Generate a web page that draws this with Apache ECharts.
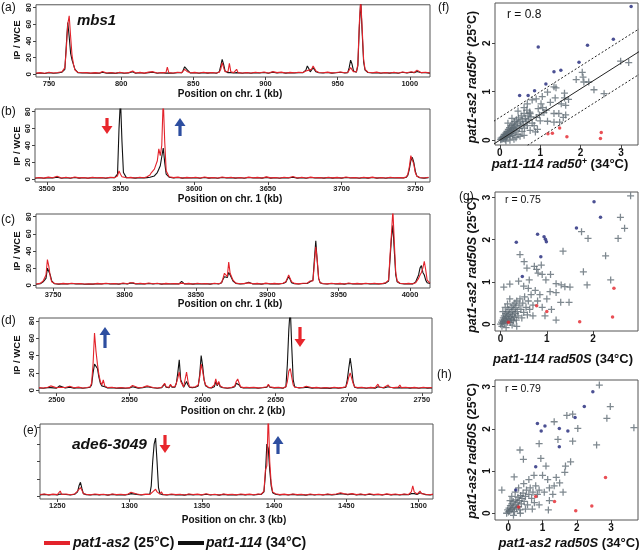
<!DOCTYPE html>
<html><head><meta charset="utf-8">
<script src="https://cdn.jsdelivr.net/npm/echarts@6/dist/echarts.min.js"></script>
<style>html,body{margin:0;padding:0;background:#fff}#c{width:640px;height:550px}</style>
</head><body><div id="c"></div>
<script>
// ---------- DATA ----------
// rows: [position kb, pat1-as2 (red), pat1-114 (black)]
const aRows = [[741,1.5,1.0],[744,2.0,1.5],[747,1.2,1.0],[750,2.5,1.8],[753,1.5,1.2],[756,2.2,1.5],[759,3.0,2.5],[761,8,6],[762,30,35],[763,60,62],[764,70,45],[765,45,25],[766,22,17],[767,12,15],[768,5,6],[770,2.5,2.0],[773,1.8,1.5],[776,2.2,1.6],[779,1.4,1.2],[782,2.0,1.5],[785,1.6,1.3],[787,3.5,2.5],[790,1.5,1.2],[793,2.2,1.7],[796,1.3,1.1],[799,2.5,2.0],[802,1.5,1.3],[805,2.0,1.6],[808,4.0,3.0],[810,1.6,1.3],[813,2.3,1.8],[816,1.4,1.2],[819,2.6,2.0],[822,3.2,2.4],[825,1.5,1.2],[828,2.2,1.8],[831,1.8,1.4],[832,8.5,2.0],[833,2.0,1.5],[836,1.6,1.3],[839,2.4,1.8],[842,2.0,1.8],[843,4,5],[844,6,9],[845,5,11],[846,3,5],[848,1.8,1.5],[851,2.3,1.9],[854,1.5,1.3],[857,2.4,2.0],[860,1.7,1.4],[863,2.1,1.8],[866,1.6,1.3],[868,2.5,3.0],[869,6,10],[870,14,18],[871,8,12],[872,3,4],[874,3,2],[875,13,3],[876,3,2],[878,2,1.6],[880,6,2],[881,2,1.5],[884,1.5,1.3],[887,2.2,1.8],[890,1.6,1.3],[893,2.4,2.0],[896,1.8,1.5],[899,2.8,2.2],[902,1.5,1.3],[905,3.2,2.6],[908,2.0,1.6],[911,2.6,2.1],[914,1.6,1.4],[917,2.3,1.9],[920,1.9,1.5],[923,2.5,2.0],[926,2.2,2.0],[928,4,5],[929,6,10],[930,5,7],[931,3,3],[932,6,5],[933,10,8],[934,8,6],[935,4,3],[937,2.2,1.8],[940,1.8,1.5],[943,2.6,2.1],[946,1.7,1.4],[949,2.2,1.8],[952,2.8,2.4],[955,1.9,1.6],[957,2.2,2.0],[958,4,8],[959,8,17],[960,6,12],[961,3,4],[963,3,2.5],[964,12,10],[965,60,55],[966,90,88],[967,55,50],[968,18,15],[969,6,5],[971,2.5,2.2],[974,1.8,1.5],[977,2.6,2.0],[980,1.5,1.3],[983,2.2,1.8],[986,1.6,1.4],[989,2.4,2.0],[992,1.5,1.3],[995,2.8,2.4],[998,1.8,1.5],[1001,3.0,2.5],[1003,2.2,2.0],[1004,4.5,3],[1005,5,3.5],[1006,4,3],[1008,2.0,1.8],[1011,2.5,2.0],[1014,1.6,1.4]];
const bRows = [[3492,1.5,1.2],[3495,2.2,1.8],[3498,1.4,1.2],[3501,2.6,2.0],[3504,1.8,1.5],[3507,3.5,2.5],[3510,1.6,1.3],[3513,2.4,1.9],[3516,1.5,1.3],[3519,2.8,2.2],[3522,1.7,1.4],[3525,2.2,1.8],[3528,1.4,1.2],[3531,2.5,2.0],[3534,1.8,1.5],[3537,2.2,1.9],[3540,1.5,1.3],[3543,2.4,2.0],[3546,2.0,2.0],[3548,4,6],[3549,10,60],[3550,6,95],[3551,3,45],[3552,2,8],[3554,1.8,2],[3557,2.3,1.8],[3560,1.6,1.4],[3563,2.4,2.0],[3566,1.8,1.5],[3568,3,2],[3570,5,2.5],[3571,8,3],[3573,12,4],[3575,22,8],[3576,36,12],[3577,28,16],[3578,40,15],[3579,95,37],[3580,45,20],[3581,10,6],[3583,3,2.5],[3586,2.0,1.7],[3589,2.6,2.1],[3592,1.6,1.4],[3595,2.3,1.9],[3598,1.8,1.5],[3601,2.5,2.0],[3604,1.5,1.3],[3607,2.8,2.2],[3610,1.7,1.4],[3613,2.2,1.8],[3616,1.5,1.3],[3619,2.7,2.1],[3622,1.8,1.5],[3625,2.4,2.0],[3628,1.6,1.4],[3631,2.2,1.8],[3634,1.5,1.3],[3637,2.6,2.1],[3640,1.8,1.5],[3643,2.3,1.9],[3646,1.6,1.4],[3649,2.9,2.3],[3652,1.7,1.4],[3655,2.2,1.8],[3658,1.5,1.3],[3661,2.5,2.0],[3664,1.8,1.5],[3667,3.2,2.4],[3670,1.6,1.4],[3673,2.4,1.9],[3676,1.5,1.3],[3679,2.6,2.1],[3682,1.8,1.5],[3685,2.2,1.8],[3688,1.6,1.4],[3691,2.5,2.0],[3694,1.7,1.4],[3697,2.3,1.9],[3700,1.6,1.4],[3703,2.8,2.2],[3706,1.8,1.5],[3709,2.2,1.8],[3712,1.5,1.3],[3715,2.4,2.0],[3718,1.7,1.4],[3721,2.6,2.1],[3724,1.6,1.4],[3727,2.2,1.8],[3730,1.5,1.3],[3733,2.5,2.0],[3736,1.8,1.5],[3739,2.2,1.8],[3742,1.7,1.5],[3744,3,2.5],[3745,6,5],[3746,15,12],[3747,28,22],[3748,30,26],[3749,18,20],[3750,8,10],[3751,4,4],[3753,2.2,1.8],[3756,1.6,1.4],[3759,2.4,2.0]];
const cRows = [[3738,1.5,1.2],[3741,2.2,1.8],[3743,5,4],[3744,6,5],[3745,12,8],[3746,30,20],[3747,22,18],[3748,10,12],[3749,4,5],[3751,2.0,1.7],[3754,1.5,1.3],[3757,2.2,1.8],[3760,1.6,1.4],[3763,2.4,2.0],[3766,1.8,1.5],[3769,2.0,1.7],[3772,1.4,1.2],[3775,1.8,1.5],[3778,1.5,1.3],[3781,2.2,1.8],[3784,1.6,1.4],[3787,2.4,2.0],[3790,1.7,1.4],[3793,2.1,1.8],[3796,1.5,1.3],[3799,2.6,2.1],[3802,1.8,1.5],[3804,3,2.5],[3805,5,4],[3806,3,2.5],[3808,1.8,1.5],[3811,2.3,1.9],[3814,1.6,1.4],[3817,2.6,2.1],[3820,1.8,1.5],[3823,2.4,2.0],[3826,1.5,1.3],[3829,2.2,1.8],[3832,1.7,1.4],[3835,2.0,1.7],[3838,1.6,1.4],[3840,2.5,4.5],[3842,1.8,1.6],[3845,2.2,1.8],[3848,1.5,1.3],[3851,2.3,1.9],[3854,1.7,1.4],[3857,2.1,1.8],[3860,1.5,1.3],[3863,2.4,2.0],[3866,1.8,1.5],[3868,3,3],[3869,8,7],[3870,14,10],[3871,16,12],[3872,10,9],[3873,27,15],[3874,14,12],[3875,12,10],[3876,6,5],[3878,2.5,2.2],[3881,1.8,1.5],[3884,2.2,1.8],[3887,2.8,3.5],[3890,1.7,1.4],[3893,2.2,1.8],[3896,1.5,1.3],[3899,2.5,2.0],[3902,1.7,1.4],[3905,2.2,1.8],[3908,1.6,1.4],[3911,2.4,2.0],[3913,4,3.5],[3914,8,7],[3915,12,10],[3916,8,7],[3917,4,3],[3919,2.2,1.8],[3922,1.6,1.4],[3925,2.4,2.0],[3928,2.5,2.0],[3929,4,3],[3930,5,4],[3931,3,3],[3932,5,6],[3933,25,30],[3934,45,52],[3935,30,28],[3936,8,8],[3937,3,3],[3939,2.0,1.7],[3942,1.6,1.4],[3945,2.4,2.0],[3948,1.7,1.4],[3951,2.2,1.8],[3954,1.5,1.3],[3957,2.6,2.1],[3960,1.8,1.5],[3963,2.2,1.8],[3966,1.6,1.4],[3969,2.4,2.0],[3972,1.7,1.4],[3975,2.3,1.9],[3978,1.6,1.4],[3981,2.2,1.8],[3983,3,2.5],[3985,6,5],[3986,35,30],[3987,60,55],[3988,88,70],[3989,50,40],[3990,15,12],[3991,5,4],[3993,2.4,2.0],[3996,1.7,1.4],[3999,2.2,1.8],[4002,1.8,1.6],[4004,3,4],[4006,8,12],[4007,12,20],[4008,15,23],[4009,20,15],[4010,28,12],[4011,18,6],[4012,6,3],[4014,2.5,2.0]];
const dRows = [[2488,3.0,2.5],[2491,2.5,2.2],[2494,3.5,3.0],[2496,5,3],[2497,3,2.5],[2500,2.8,2.4],[2502,3.5,5],[2503,2.8,3],[2506,3.2,2.6],[2509,4.5,3.5],[2512,2.8,2.4],[2515,3.6,3.0],[2518,2.6,2.2],[2521,3.2,2.8],[2523,4,3.5],[2524,8,6],[2525,30,20],[2526,66,30],[2527,45,31],[2528,30,25],[2529,18,15],[2530,10,8],[2531,6,5],[2532,12,6],[2533,5,4],[2535,3,2.6],[2538,3.5,3.0],[2541,2.6,2.2],[2544,3.2,2.7],[2547,2.5,2.2],[2550,3.0,2.6],[2552,5.5,4],[2553,3.5,3],[2556,2.8,2.4],[2559,3.4,2.9],[2562,5,4],[2563,3,2.6],[2566,3.2,2.8],[2569,2.6,2.2],[2572,3.4,2.9],[2574,8,7],[2575,4,3.5],[2577,3.5,3],[2578,7,6],[2579,4,3.5],[2581,4,3.5],[2582,8,8],[2583,14,20],[2584,21,35],[2585,10,12],[2586,7,8],[2587,4,3.5],[2588,6,4],[2589,21,10],[2590,10,6],[2591,4,3.5],[2593,3.5,3],[2595,4,3.5],[2597,6,5],[2598,15,18],[2599,30,40],[2600,22,28],[2601,12,12],[2602,6,5],[2604,3.5,3],[2606,3,2.6],[2608,6,4],[2609,13,10],[2610,6,5],[2611,10,9],[2612,5,4],[2614,3.2,2.8],[2617,2.6,2.2],[2620,3.4,2.9],[2622,5,4],[2623,10,8],[2624,13,10],[2625,8,6],[2626,4,3.5],[2628,3,2.6],[2630,3.4,3],[2631,5,4],[2632,3,2.6],[2635,3.4,2.9],[2638,2.7,2.3],[2641,3.2,2.8],[2644,4,3.5],[2645,7,6],[2646,4,3.5],[2649,3.0,2.6],[2652,3.4,2.9],[2655,2.6,2.2],[2657,4,4],[2658,10,30],[2659,22,70],[2660,25,95],[2661,15,50],[2662,6,12],[2663,3.5,4],[2666,3.0,2.6],[2669,3.4,2.8],[2671,4.5,3.5],[2672,3,2.5],[2675,2.8,2.4],[2678,3.3,2.8],[2681,2.6,2.2],[2684,3.2,2.7],[2687,2.5,2.1],[2690,3.4,2.9],[2693,2.7,2.3],[2696,3.3,2.8],[2698,4,3.5],[2699,8,12],[2700,15,25],[2701,20,37],[2702,18,25],[2703,8,10],[2704,4,3.5],[2706,3.0,2.6],[2709,3.5,3.0],[2712,2.6,2.2],[2715,3.3,2.8],[2718,2.8,2.4],[2720,7,4],[2721,3.5,3],[2724,3.2,2.7],[2727,6,4],[2728,3.5,3],[2731,3.0,2.6],[2734,3.6,3],[2735,6,4],[2736,3,2.6],[2739,3.4,2.9],[2742,2.8,2.4],[2745,3.3,2.8],[2748,2.6,2.2],[2751,3.4,2.9],[2754,2.8,2.4],[2757,3.2,2.7]];
const eRows = [[1238,2.0,1.6],[1241,2.6,2.1],[1244,1.6,1.4],[1247,2.4,2.0],[1250,1.8,1.5],[1252,6,2.5],[1253,2,1.6],[1256,2.5,2.0],[1259,1.7,1.4],[1262,2.6,2.2],[1264,6,5],[1265,8,12],[1266,10,16],[1267,7,9],[1268,3,3],[1270,2.2,1.8],[1273,1.6,1.4],[1276,2.5,2.0],[1279,1.8,1.5],[1282,2.3,1.9],[1285,1.5,1.3],[1288,2.6,2.1],[1291,1.8,1.5],[1294,2.2,1.8],[1297,1.6,1.4],[1299,2.5,2.0],[1301,4.5,3],[1302,2.2,1.8],[1305,2.6,2.1],[1308,1.7,1.4],[1311,2.4,2.0],[1314,2.0,2.5],[1315,3,12],[1316,5,40],[1317,7,60],[1318,8,67],[1319,5,40],[1320,3,10],[1321,2.5,3],[1322,5,2.5],[1323,2.2,1.8],[1326,1.6,1.4],[1329,2.5,2.0],[1332,1.8,1.5],[1335,2.2,1.8],[1338,1.5,1.3],[1341,2.6,2.1],[1344,1.9,1.6],[1347,2.4,2.0],[1350,1.6,1.4],[1353,2.8,2.2],[1356,1.7,1.4],[1359,2.3,1.9],[1362,1.5,1.3],[1365,2.6,2.1],[1368,1.8,1.5],[1371,2.2,1.8],[1374,1.6,1.4],[1377,2.5,2.0],[1380,1.8,1.5],[1383,2.4,2.0],[1386,1.7,1.4],[1389,2.6,2.1],[1391,2.2,2.0],[1393,6,5],[1394,30,25],[1395,35,60],[1396,95,55],[1397,40,30],[1398,15,12],[1399,5,4],[1401,2.8,2.2],[1404,1.8,1.5],[1407,2.4,2.0],[1410,1.6,1.4],[1413,2.6,2.1],[1416,1.8,1.5],[1419,2.2,1.8],[1422,1.5,1.3],[1425,2.5,2.0],[1428,1.7,1.4],[1431,2.3,1.9],[1434,1.6,1.4],[1437,2.6,2.1],[1440,1.9,1.6],[1443,2.5,2.0],[1446,4,3],[1447,5,3.5],[1448,3,2.5],[1451,2.2,1.8],[1454,3,2.5],[1457,1.8,1.5],[1460,2.6,2.1],[1463,1.7,1.4],[1466,2.8,2.2],[1469,1.9,1.6],[1472,2.4,2.0],[1475,1.6,1.4],[1478,2.7,2.2],[1481,1.8,1.5],[1484,2.5,2.0],[1487,1.7,1.4],[1490,2.6,2.1],[1493,2.0,1.7],[1495,5,3],[1496,12,5],[1497,5,3],[1499,2.5,2.0],[1501,6,4],[1502,3,2.5],[1505,2.2,1.8],[1508,1.7,1.4],[1510,2.4,2.0]];

const aTicks = [750,800,850,900,950,1000];
const bTicks = [3500,3550,3600,3650,3700,3750];
const cTicks = [3750,3800,3850,3900,3950,4000];
const dTicks = [2500,2550,2600,2650,2700,2750];
const eTicks = [1250,1300,1350,1400,1450,1500];
const trackYTicks = [0,20,40,60,80];

// scatter panels
const fGrey = [[0.02,0.01],[0.03,0.04],[0.05,0.02],[0.06,0.06],[0.08,0.03],[0.09,0.08],[0.1,0.05],[0.11,0.12],[0.12,0.07],[0.13,0.02],[0.14,0.1],[0.15,0.15],[0.16,0.06],[0.17,0.12],[0.18,0.18],[0.19,0.09],[0.2,0.14],[0.21,0.22],[0.22,0.11],[0.23,0.17],[0.24,0.26],[0.25,0.08],[0.26,0.2],[0.27,0.14],[0.28,0.3],[0.29,0.18],[0.3,0.24],[0.31,0.1],[0.32,0.33],[0.33,0.2],[0.34,0.27],[0.35,0.15],[0.36,0.38],[0.37,0.23],[0.38,0.31],[0.4,0.19],[0.41,0.42],[0.42,0.27],[0.44,0.35],[0.45,0.12],[0.46,0.46],[0.48,0.24],[0.5,0.38],[0.52,0.3],[0.53,0.5],[0.55,0.18],[0.56,0.42],[0.58,0.33],[0.6,0.55],[0.61,0.25],[0.63,0.45],[0.65,0.38],[0.67,0.62],[0.68,0.3],[0.7,0.5],[0.72,0.42],[0.74,0.58],[0.75,0.2],[0.77,0.48],[0.8,0.35],[0.8,0.83],[0.68,0.75],[0.6,0.67],[0.75,0.55],[0.9,0.85],[1.05,0.9],[1.18,0.99],[1.06,0.67],[1.09,0.57],[0.98,0.52],[0.9,0.47],[0.85,0.3],[0.93,0.22],[0.88,0.17],[1.18,0.39],[1.34,0.55],[1.46,0.55],[1.57,0.47],[1.63,0.52],[1.48,0.37],[1.34,0.37],[1.34,1.1],[1.39,1.08],[1.6,0.97],[1.37,0.87],[1.6,0.87],[1.7,0.84],[1.63,0.72],[1.52,0.75],[1.25,0.78],[1.15,0.62],[1.0,0.4],[1.89,1.25],[2.04,1.4],[2.06,1.3],[2.08,1.2],[2.2,1.2],[2.33,1.04],[2.58,0.96],[2.99,1.63],[3.19,1.6],[1.02,0.75],[0.95,0.65],[0.4,0.05],[0.5,0.08],[0.6,0.1],[0.35,0.02],[0.25,0.0],[0.15,-0.02],[0.3,0.45],[0.2,0.35],[0.45,0.6]];
const fBlue = [[3.25,2.76],[0.95,1.92],[2.17,1.96],[2.81,2.08],[1.96,1.61],[1.51,1.44],[1.34,1.41],[1.14,1.16],[0.86,1.02],[0.49,0.92],[0.70,0.92]];
const fRed = [[1.19,0.13],[1.30,0.14],[1.48,0.25],[1.66,0.07],[2.51,0.16],[2.49,0.035]];
const fSlope = 0.53, fBand = 0.47, fR = 'r = 0.8';

const gGrey = [[0.0,0.0],[0.02,0.05],[0.04,0.1],[0.05,0.02],[0.06,0.15],[0.07,0.07],[0.08,0.2],[0.09,0.03],[0.1,0.12],[0.11,0.25],[0.12,0.08],[0.13,0.18],[0.14,0.3],[0.15,0.05],[0.16,0.14],[0.17,0.22],[0.18,0.35],[0.19,0.1],[0.2,0.27],[0.21,0.04],[0.22,0.18],[0.23,0.4],[0.24,0.12],[0.25,0.3],[0.26,0.22],[0.27,0.45],[0.28,0.08],[0.29,0.35],[0.3,0.16],[0.31,0.5],[0.32,0.26],[0.33,0.4],[0.34,0.1],[0.35,0.55],[0.36,0.3],[0.38,0.2],[0.4,0.45],[0.42,0.6],[0.44,0.35],[0.46,0.15],[0.48,0.5],[0.5,0.28],[0.52,0.65],[0.55,0.4],[0.58,0.22],[0.6,0.55],[0.63,0.35],[0.66,0.7],[0.7,0.45],[0.1,0.4],[0.05,0.3],[0.15,0.48],[0.2,0.6],[0.03,-0.05],[0.12,-0.08],[0.25,-0.02],[0.35,-0.05],[0.07,0.88],[0.2,0.95],[0.39,1.02],[0.42,1.65],[0.51,1.48],[0.57,1.33],[0.73,1.37],[0.78,1.3],[0.81,1.21],[0.9,1.18],[0.88,1.4],[0.98,1.05],[0.62,1.05],[0.5,0.9],[0.6,0.85],[0.75,0.8],[0.85,0.7],[1.07,0.77],[1.2,0.75],[1.08,1.18],[1.2,0.96],[1.31,0.93],[1.39,0.89],[1.5,0.88],[1.87,0.93],[1.79,1.24],[1.35,1.73],[1.75,2.19],[1.89,2.03],[2.38,1.05],[2.27,1.62],[2.54,2.03],[2.68,2.27],[2.59,2.53],[2.81,3.04],[1.3,0.52],[1.48,0.52],[1.2,0.1],[0.96,0.2],[0.8,0.55],[0.9,0.4],[1.0,0.6],[0.7,0.2],[1.1,0.35]];
const gBlue = [[2.02,2.90],[2.16,2.53],[1.64,2.28],[0.80,2.13],[0.94,2.07],[0.97,2.01],[0.99,1.95],[0.34,1.94],[0.87,1.60],[0.47,1.13]];
const gRed = [[2.45,0.85],[1.71,0.06],[2.42,0.17],[0.78,0.44],[1.0,0.30],[0.17,0.05]];
const gR = 'r = 0.75';

const hGrey = [[-0.05,0.0],[-0.02,0.08],[0.0,0.03],[0.02,0.12],[0.04,0.05],[0.06,0.18],[0.08,0.08],[0.1,0.22],[0.12,0.1],[0.14,0.28],[0.16,0.14],[0.18,0.04],[0.2,0.2],[0.22,0.32],[0.24,0.12],[0.26,0.25],[0.28,0.38],[0.3,0.16],[0.32,0.3],[0.34,0.08],[0.36,0.42],[0.38,0.22],[0.4,0.35],[0.43,0.48],[0.46,0.28],[0.5,0.4],[0.53,0.55],[0.56,0.2],[0.6,0.45],[0.64,0.6],[0.68,0.35],[0.72,0.5],[0.76,0.25],[0.8,0.65],[0.85,0.45],[0.9,0.55],[0.1,0.4],[0.2,0.5],[0.05,0.3],[0.3,0.6],[0.15,-0.05],[0.35,0.0],[0.5,0.1],[-0.19,0.55],[0.17,0.86],[0.34,1.5],[0.44,1.28],[0.9,1.65],[0.95,1.3],[1.1,1.12],[1.0,0.9],[1.15,0.8],[1.2,0.6],[1.05,0.5],[1.3,0.45],[1.4,0.85],[1.5,0.72],[1.34,0.65],[1.65,0.97],[1.67,1.12],[1.82,1.22],[1.45,1.75],[1.34,2.17],[1.71,2.32],[1.88,2.35],[2.03,2.01],[1.88,1.71],[2.58,1.62],[2.88,2.25],[2.98,2.53],[2.66,3.04],[3.67,2.03],[1.17,0.08],[0.9,0.2],[0.7,0.1],[1.6,0.5],[0.6,0.8],[0.75,0.9],[1.2,0.3],[0.45,0.7]];
const hBlue = [[2.47,2.88],[2.22,2.53],[0.85,2.13],[1.07,2.07],[0.96,1.95],[1.49,2.01],[1.95,2.27],[1.74,1.95],[1.49,1.58],[0.80,1.10],[0.22,0.55]];
const hRed = [[2.84,0.85],[2.44,0.17],[1.97,0.06],[1.35,0.28],[0.8,0.4],[0.3,0.15]];
const hR = 'r = 0.79';

// ---------- CHART ----------
const FONT = '"Liberation Sans", Arial, Helvetica, sans-serif';
const RED = '#e3232b', BLACK = '#111111', GREY = '#5e6a73', NAVY = '#1e2478';
const PLUS = 'path://M0,4.1H10V5.9H0Z M4.1,0H5.9V10H4.1Z';
const plain = v => String(v);

const tracks = [
  {rows:aRows, ticks:aTicks, min:741, max:1014, g:{left:36,top:3,width:394,height:74}, yLab:true},
  {rows:bRows, ticks:bTicks, min:3492, max:3760, g:{left:35,top:109,width:395,height:73}, yLab:true},
  {rows:cRows, ticks:cTicks, min:3738, max:4014, g:{left:36,top:214,width:394,height:74}, yLab:true},
  {rows:dRows, ticks:dTicks, min:2488, max:2757, g:{left:39,top:318,width:393,height:75}, yLab:true},
  {rows:eRows, ticks:eTicks, min:1238, max:1510, g:{left:40,top:424,width:393,height:75}, yLab:false}
];
const scatters = [
  {grey:fGrey, blue:fBlue, red:fRed, xMin:-0.12, xMax:3.42, yMin:-0.1, yMax:2.83, xT:[0,1,2,3], yT:[0,1,2], g:{left:495,top:3,width:143,height:142}},
  {grey:gGrey, blue:gBlue, red:gRed, xMin:-0.12, xMax:2.97, yMin:-0.16, yMax:3.13, xT:[0,1,2], yT:[0,1,2,3], g:{left:495,top:192,width:143,height:139}},
  {grey:hGrey, blue:hBlue, red:hRed, xMin:-0.39, xMax:3.79, yMin:-0.16, yMax:3.16, xT:[0,1,2,3], yT:[0,1,2,3], g:{left:495,top:380,width:143,height:140}}
];

const grid = [], xAxis = [], yAxis = [], series = [];
const tickStyle = {show:true, inside:false, length:3, lineStyle:{color:'#444', width:1}};
const noLine = {show:false, onZero:false};
tracks.forEach((p, i) => {
  grid.push(Object.assign({show:true, borderColor:'#555', borderWidth:1, containLabel:false}, p.g));
  xAxis.push({type:'value', gridIndex:i, position:'bottom', min:p.min, max:p.max,
    axisLine:noLine, splitLine:{show:false},
    axisTick:Object.assign({customValues:p.ticks}, tickStyle),
    axisLabel:{customValues:p.ticks, formatter:plain, fontSize:7.5, fontWeight:'bold', color:'#222', margin:3, fontFamily:FONT}});
  yAxis.push({type:'value', gridIndex:i, position:'left', min:-3.2, max:83.2,
    axisLine:noLine, splitLine:{show:false},
    axisTick:Object.assign({customValues:trackYTicks}, tickStyle),
    axisLabel:{show:p.yLab, customValues:trackYTicks, formatter:plain, rotate:90, fontSize:8, fontWeight:'bold', color:'#222', margin:3, fontFamily:FONT}});
  series.push({type:'line', xAxisIndex:i, yAxisIndex:i, data:p.rows.map(r => [r[0], r[2]]),
    showSymbol:false, symbol:'none', clip:true, lineStyle:{color:BLACK, width:1.1}, z:2});
  series.push({type:'line', xAxisIndex:i, yAxisIndex:i, data:p.rows.map(r => [r[0], r[1]]),
    showSymbol:false, symbol:'none', clip:true, lineStyle:{color:RED, width:1.1}, z:3});
});
scatters.forEach((s, j) => {
  const i = tracks.length + j;
  grid.push(Object.assign({show:true, borderColor:'#555', borderWidth:1}, s.g));
  xAxis.push({type:'value', gridIndex:i, position:'bottom', min:s.xMin, max:s.xMax,
    axisLine:noLine, splitLine:{show:false},
    axisTick:Object.assign({customValues:s.xT}, tickStyle),
    axisLabel:{customValues:s.xT, formatter:plain, fontSize:10, fontWeight:'bold', color:'#111', margin:3, fontFamily:FONT}});
  yAxis.push({type:'value', gridIndex:i, position:'left', min:s.yMin, max:s.yMax,
    axisLine:noLine, splitLine:{show:false},
    axisTick:Object.assign({customValues:s.yT}, tickStyle),
    axisLabel:{customValues:s.yT, formatter:plain, rotate:90, fontSize:10, fontWeight:'bold', color:'#111', margin:3, fontFamily:FONT}});
  series.push({type:'scatter', xAxisIndex:i, yAxisIndex:i, data:s.grey, symbol:PLUS, symbolSize:7,
    itemStyle:{color:GREY}, z:2});
  series.push({type:'scatter', xAxisIndex:i, yAxisIndex:i, data:s.blue, symbol:'circle', symbolSize:3.5,
    itemStyle:{color:NAVY}, z:3});
  series.push({type:'scatter', xAxisIndex:i, yAxisIndex:i, data:s.red, symbol:'circle', symbolSize:3.5,
    itemStyle:{color:RED}, z:3});
  if (j === 0) {
    const xs = [s.xMin - 0.2, s.xMax + 0.2];
    [0, fBand, -fBand].forEach((off, k) => {
      series.push({type:'line', xAxisIndex:i, yAxisIndex:i, data:xs.map(x => [x, fSlope * x + off]),
        showSymbol:false, symbol:'none', clip:true, z:4,
        lineStyle:{color:'#222', width:1, type: k === 0 ? 'solid' : [2, 2]}});
    });
  }
});

function txt(x, y, text, size, o) {
  o = o || {};
  return {type:'text', x:x, y:y, rotation:o.rot || 0, z:10,
    style:{text:text, fontSize:size, fontFamily:FONT, fontWeight:o.w || 'normal', fontStyle:o.it ? 'italic' : 'normal',
      fill:o.fill || '#111', textAlign:o.align || 'left', textVerticalAlign:'middle', rich:o.rich}};
}
function richSet(size) {
  return {
    i:{fontFamily:FONT, fontSize:size, fontWeight:'bold', fontStyle:'italic', fill:'#111'},
    s:{fontFamily:FONT, fontSize:Math.round(size * 0.68), fontWeight:'bold', fontStyle:'italic', fill:'#111', verticalAlign:'top'},
    n:{fontFamily:FONT, fontSize:size, fontWeight:'bold', fill:'#111'}
  };
}
function arrow(cx, y1, y2, color, up) {
  const hw = 5.5, sw = 1.6, hl = 8;
  const pts = up
    ? [[cx - sw, y2], [cx + sw, y2], [cx + sw, y1 + hl], [cx + hw, y1 + hl], [cx, y1], [cx - hw, y1 + hl], [cx - sw, y1 + hl]]
    : [[cx - sw, y1], [cx + sw, y1], [cx + sw, y2 - hl], [cx + hw, y2 - hl], [cx, y2], [cx - hw, y2 - hl], [cx - sw, y2 - hl]];
  return {type:'polygon', z:10, shape:{points:pts}, style:{fill:color}};
}
const ARED = '#e8262c', ABLUE = '#2d4ea0';
const graphic = [
  txt(1, 8, '(a)', 12), txt(1, 112, '(b)', 12), txt(1, 220, '(c)', 12), txt(1, 321, '(d)', 12), txt(23, 431, '(e)', 12),
  txt(438, 8, '(f)', 12), txt(459, 197, '(g)', 12), txt(437, 375, '(h)', 12),
  txt(17, 40, 'IP / WCE', 9.5, {rot:Math.PI / 2, align:'center', w:'bold'}),
  txt(17, 146, 'IP / WCE', 9.5, {rot:Math.PI / 2, align:'center', w:'bold'}),
  txt(17, 251, 'IP / WCE', 9.5, {rot:Math.PI / 2, align:'center', w:'bold'}),
  txt(17, 355, 'IP / WCE', 9.5, {rot:Math.PI / 2, align:'center', w:'bold'}),
  txt(230, 94, 'Position on chr. 1 (kb)', 10, {w:'bold', align:'center'}),
  txt(230, 199, 'Position on chr. 1 (kb)', 10, {w:'bold', align:'center'}),
  txt(230, 304, 'Position on chr. 1 (kb)', 10, {w:'bold', align:'center'}),
  txt(233, 411, 'Position on chr. 2 (kb)', 10, {w:'bold', align:'center'}),
  txt(234, 520, 'Position on chr. 3 (kb)', 10, {w:'bold', align:'center'}),
  txt(77, 21, 'mbs1', 15, {w:'bold', it:true}),
  txt(72, 445, 'ade6-3049', 15.5, {w:'bold', it:true}),
  arrow(107, 118, 134, ARED, false), arrow(180, 118, 136, ABLUE, true),
  arrow(105, 327, 348, ABLUE, true), arrow(300, 327, 347, ARED, false),
  arrow(165, 435, 453, ARED, false), arrow(278, 436, 454, ABLUE, true),
  // scatter axis titles
  txt(473, 77, '{i|pat1-as2 rad50}{s|+}{n| (25°C)}', 12.5, {rot:Math.PI / 2, align:'center', rich:richSet(12.5)}),
  txt(560, 164, '{i|pat1-114 rad50}{s|+}{n| (34°C)}', 13, {align:'center', rich:richSet(13)}),
  txt(473, 265, '{i|pat1-as2 rad50S}{n| (25°C)}', 12.5, {rot:Math.PI / 2, align:'center', rich:richSet(12.5)}),
  txt(563, 359, '{i|pat1-114 rad50S}{n| (34°C)}', 13, {align:'center', rich:richSet(13)}),
  txt(473, 451, '{i|pat1-as2 rad50S}{n| (25°C)}', 12.5, {rot:Math.PI / 2, align:'center', rich:richSet(12.5)}),
  txt(569, 543, '{i|pat1-as2 rad50S}{n| (34°C)}', 13, {align:'center', rich:richSet(13)}),
  txt(507, 15, fR, 12), txt(505, 200, gR, 10.5), txt(505, 389, hR, 10.5),
  // legend
  {type:'line', z:10, shape:{x1:44, y1:543, x2:70, y2:543}, style:{stroke:RED, lineWidth:4}},
  txt(73, 543, '{i|pat1-as2}{n| (25°C)}', 14, {rich:richSet(14)}),
  {type:'line', z:10, shape:{x1:178, y1:543, x2:204, y2:543}, style:{stroke:BLACK, lineWidth:4}},
  txt(206, 543, '{i|pat1-114}{n| (34°C)}', 14, {rich:richSet(14)})
];

const chart = echarts.init(document.getElementById('c'), null, {renderer:'canvas'});
chart.setOption({animation:false, backgroundColor:'#fff', grid, xAxis, yAxis, series, graphic});
</script>
</body></html>
